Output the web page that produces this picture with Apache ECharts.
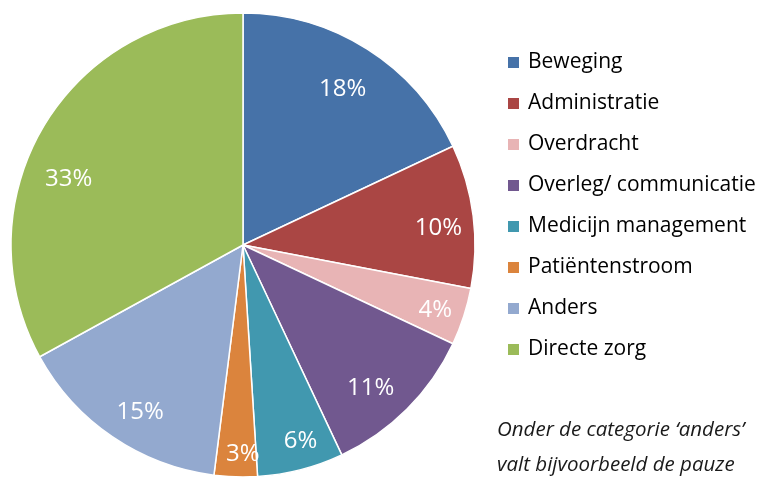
<!DOCTYPE html>
<html><head><meta charset="utf-8">
<script src="https://cdn.jsdelivr.net/npm/echarts@6/dist/echarts.min.js"></script>
<style>html,body{margin:0;padding:0;background:#fff}#c{width:766px;height:478px}</style>
</head><body><div id="c"></div>
<script>
const categories = ['Beweging','Administratie','Overdracht','Overleg/ communicatie','Medicijn management','Patiëntenstroom','Anders','Directe zorg'];
const values = [18, 10, 4, 11, 6, 3, 15, 33];
const colors = ['#4672A8','#AA4644','#E8B4B5','#71588F','#4198AF','#DB843D','#93A9CF','#9BBB59'];
const noteLines = ['Onder de categorie ‘anders’', 'valt bijvoorbeeld de pauze'];
// label nudges (style only), px
const labelNudgeX = [-7, -2, 3, -13, 8, 6, 9, -3];
const labelNudgeY = [12, 8, 4, 2, 3, 10, 3, 35];

const FONT = '"Open Sans"';
const data = categories.map((n, i) => ({ name: n, value: values[i], itemStyle: { color: colors[i] } }));
const chart = echarts.init(document.getElementById('c'), null, { renderer: 'canvas' });
chart.setOption({
  animation: false,
  color: colors,
  legend: {
    orient: 'vertical', left: 501, top: 47,
    itemWidth: 13, itemHeight: 13, itemGap: 20,
    icon: 'rect',
    data: categories,
    textStyle: { fontFamily: FONT, fontSize: 21, color: '#000', lineHeight: 20, padding: [0, 0, 0, 3] },
    selectedMode: false
  },
  graphic: [
    { type: 'text', left: 497, top: 420, style: { text: noteLines[0], font: 'italic 20.5px ' + FONT, fill: '#1a1a1a' } },
    { type: 'text', left: 497, top: 455, style: { text: noteLines[1], font: 'italic 20.5px ' + FONT, fill: '#1a1a1a' } }
  ],
  series: [
    {
      type: 'pie', center: [243, 245], radius: [0, 232], startAngle: 90, clockwise: true,
      data: data, label: { show: false }, labelLine: { show: false },
      itemStyle: { borderColor: '#fff', borderWidth: 1.5 }, silent: true
    },
    {
      type: 'pie', center: [243, 245], radius: [160, 232], startAngle: 90, clockwise: true,
      data: categories.map((n, i) => ({ name: n, value: values[i] })), silent: true,
      itemStyle: { color: 'rgba(0,0,0,0)' },
      label: { show: true, position: 'inside', formatter: '{c}%', color: '#fff', fontFamily: FONT, fontSize: 24 },
      labelLine: { show: false },
      labelLayout: function (p) { return { dx: labelNudgeX[p.dataIndex], dy: labelNudgeY[p.dataIndex] }; }
    }
  ]
});
</script></body></html>
